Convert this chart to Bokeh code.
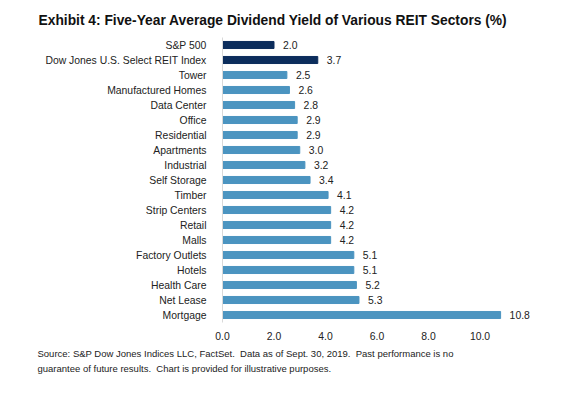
from bokeh.plotting import figure
from bokeh.models import ColumnDataSource, Title, FixedTicker, Range1d
from bokeh.core.properties import value
from bokeh.embed import file_html
from bokeh.resources import INLINE

categories = ["S&P 500", "Dow Jones U.S. Select REIT Index", "Tower", "Manufactured Homes",
              "Data Center", "Office", "Residential", "Apartments", "Industrial", "Self Storage",
              "Timber", "Strip Centers", "Retail", "Malls", "Factory Outlets", "Hotels",
              "Health Care", "Net Lease", "Mortgage"]
yields = [2.0, 3.7, 2.5, 2.6, 2.8, 2.9, 2.9, 3.0, 3.2, 3.4, 4.1, 4.2, 4.2, 4.2, 5.1, 5.1, 5.2, 5.3, 10.8]
tick_values = [0, 2, 4, 6, 8, 10]
tick_labels = ["0.0", "2.0", "4.0", "6.0", "8.0", "10.0"]
title_text = "Exhibit 4: Five-Year Average Dividend Yield of Various REIT Sectors (%)"
footer_lines = ["Source: S&P Dow Jones Indices LLC, FactSet.\u00a0 Data as of Sept. 30, 2019.\u00a0 Past performance is no",
                "guarantee of future results.\u00a0 Chart is provided for illustrative purposes."]

DARK = "#0c2d5c"
LIGHT = "#4b94c0"
colors = [DARK if c in ("S&P 500", "Dow Jones U.S. Select REIT Index") else LIGHT for c in categories]

src = ColumnDataSource(dict(cat=categories, val=yields, color=colors,
                            lab=["%.1f" % v for v in yields]))

BOTTOM = 58
W, H = 575, 371 - 49 + BOTTOM
LEFT = 222
XMAX = 12.0
FRAME_W = int(XMAX * 25.75)
FS = "10.4px"
p = figure(width=W, height=H, y_range=list(reversed(categories)),
           x_range=Range1d(0, XMAX), output_backend="svg", toolbar_location=None,
           min_border_left=LEFT, min_border_right=W - LEFT - FRAME_W,
           min_border_top=0, min_border_bottom=BOTTOM)
p.hbar(y="cat", right="val", left=0, height=0.47, color="color", source=src)
p.text(x="val", y="cat", text="lab", source=src, x_offset=9, text_align="left",
       text_baseline="middle", text_font=value("Liberation Sans"), text_font_size=FS,
       text_color="#222222")

p.outline_line_color = None
p.background_fill_color = "white"
p.border_fill_color = "white"
p.xgrid.grid_line_color = None
p.ygrid.grid_line_color = None

p.xaxis.ticker = FixedTicker(ticks=tick_values)
p.xaxis.major_label_overrides = {v: l for v, l in zip(tick_values, tick_labels)}
p.xaxis.axis_line_color = None
p.xaxis.major_tick_line_color = None
p.xaxis.minor_tick_line_color = None
p.xaxis.major_tick_out = 0
p.xaxis.major_label_standoff = 9
p.xaxis.major_label_text_font = "Liberation Sans"
p.xaxis.major_label_text_font_size = FS
p.xaxis.major_label_text_color = "#222222"

p.yaxis.axis_line_color = "#d9d9d9"
p.yaxis.major_tick_line_color = None
p.yaxis.minor_tick_line_color = None
p.yaxis.major_label_standoff = 10
p.yaxis.major_label_text_font = "Liberation Sans"
p.yaxis.major_label_text_font_size = FS
p.yaxis.major_label_text_color = "#222222"

p.title = Title(text=title_text, align="left", offset=38 - LEFT,
                text_font="Liberation Sans", text_font_style="bold", text_font_size="13.8px",
                text_color="#111111", standoff=20)

for i, line in enumerate(footer_lines):
    p.add_layout(Title(text=line, align="left", offset=37 - LEFT,
                       text_font="Liberation Sans", text_font_style="normal",
                       text_font_size="9.5px", text_color="#222222",
                       standoff=(7 if i == 0 else -3)), "below")

open("out.html", "w").write(file_html(p, INLINE))
